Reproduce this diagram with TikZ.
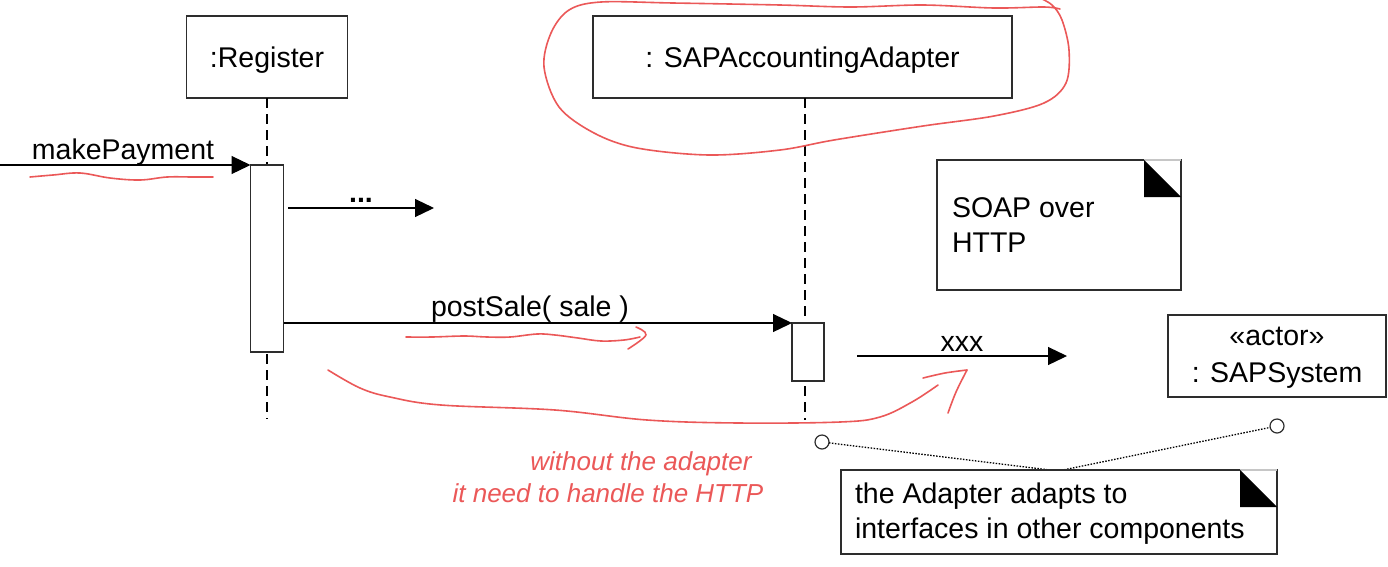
\documentclass[tikz,border=0pt]{standalone}
\usepackage{fontspec}
\setmainfont{Liberation Sans}
\usetikzlibrary{arrows.meta}
\definecolor{pen}{RGB}{235,88,88}
\definecolor{edge}{RGB}{45,45,45}
\begin{document}
\begin{tikzpicture}[x=1pt,y=-1pt,
  every node/.style={inner sep=0pt, outer sep=0pt},
  lbl/.style={font=\fontsize{28.5}{34}\selectfont, anchor=base},
  objbox/.style={draw=edge, line width=1.2pt, fill=white, font=\fontsize{28.5}{34}\selectfont, text height=20pt, text depth=0pt},
  actbar/.style={draw=edge, line width=1.2pt, fill=white},
  lifeline/.style={line width=1.5pt, dash pattern=on 10pt off 6pt},
  msg/.style={line width=1.2pt, -{Triangle[length=19pt,width=18pt]}},
  notebox/.style={draw=edge, line width=1.2pt, fill=white},
  ink/.style={draw=pen, line width=1.6pt, line cap=round, line join=round},
  hand/.style={text=pen, font=\fontsize{26}{30}\selectfont\itshape, anchor=base},
  anchorline/.style={line width=1.3pt, dash pattern=on 1.5pt off 1.5pt},
  pin/.style={circle, draw=edge, line width=1.2pt, fill=white, minimum size=14pt},
]
\useasboundingbox (0,0) rectangle (1388,566);
\fill[white] (0,0) rectangle (1388,566);

% object boxes
\node[objbox, minimum width=161pt, minimum height=82pt] (reg) at (267,57) {:Register};
\node[objbox, minimum width=419pt, minimum height=82pt] (ada) at (802.5,57) {: SAPAccountingAdapter};
\node[objbox, minimum width=218pt, minimum height=82pt] (act) at (1277,356) {};
\node[lbl] (actst) at (1277,345) {«actor»};
\node[lbl] (actnm) at (1277,382) {: SAPSystem};

% lifelines
\coordinate (regend) at (267,419);
\draw[lifeline] (reg.south) -- (regend);
\coordinate (adaend) at (805,420);
\draw[lifeline] (ada.south -| adaend) -- (adaend);

% activation bars
\node[actbar, minimum width=33pt, minimum height=187pt] (regact) at (267,258.5) {};
\node[actbar, minimum width=32pt, minimum height=58pt] (adact) at (808,352) {};

% messages
\coordinate (mpsrc) at (0,165);
\draw[msg] (mpsrc) -- (regact.north west);
\node[lbl] (mplbl) at (123,159) {makePayment};

\coordinate (dotsrc) at (288,208);
\coordinate (dotdst) at (434,208);
\draw[msg] (dotsrc) -- (dotdst);
\node[lbl, font=\fontsize{28.5}{34}\selectfont\bfseries] (dotlbl) at (361,202) {...};

\draw[msg] (regact.east |- adact.north) -- (adact.north west);
\node[lbl] (pslbl) at (530,316) {postSale( sale )};

\coordinate (xsrc) at (857,356);
\coordinate (xdst) at (1067,356);
\draw[msg] (xsrc) -- (xdst);
\node[lbl] (xlbl) at (962,351) {xxx};

% note: SOAP over HTTP
\node[notebox, minimum width=244pt, minimum height=130pt] (soap) at (1059,225) {};
\draw[gray!45, line width=1.2pt] ([xshift=-37pt]soap.north east) -- (soap.north east);
\fill ([xshift=-37pt]soap.north east) -- ++(0,37) -- ++(37,0) -- cycle;
\node[lbl, anchor=base west] (soapt1) at (952,217) {SOAP over};
\node[lbl, anchor=base west] (soapt2) at (952,252) {HTTP};

% note: adapter
\coordinate (nanch) at (1058,471);
\node[pin] (c1) at (822,442) {};
\node[pin] (c2) at (1277,426) {};
\draw[anchorline] (c1) -- (nanch) -- (c2);
\node[notebox, minimum width=436pt, minimum height=84pt] (anote) at (1059,512) {};
\draw[gray!45, line width=1.2pt] ([xshift=-37pt]anote.north east) -- (anote.north east);
\fill ([xshift=-37pt]anote.north east) -- ++(0,37) -- ++(37,0) -- cycle;
\node[lbl, anchor=base west] (ant1) at (855,503) {the Adapter adapts to};
\node[lbl, anchor=base west] (ant2) at (855,538) {interfaces in other components};

% red handwritten annotations
\draw[ink] plot[smooth, tension=0.6] coordinates {(30,177) (53,175) (80,173) (110,178) (140,180) (167,177) (193,177) (213,177)};
\draw[ink] plot[smooth, tension=0.6] coordinates {(406,337) (432,337) (464,336) (487,337) (510,337) (537,334) (555,335) (578,338) (601,341) (624,340) (640,337)};
\draw[ink] plot[smooth, tension=0.6] coordinates {(636,327) (646,335) (628,349)};
\draw[ink] plot[smooth, tension=0.6] coordinates {(328,370) (360,388) (390,397) (441,405) (555,410) (647,420) (739,423) (840,422) (880,417) (912,402) (938,385)};
\draw[ink] plot[smooth, tension=0.6] coordinates {(923,378) (945,373) (967,370)};
\draw[ink] plot[smooth, tension=0.6] coordinates {(967,370) (956,392) (948,413)};
\draw[ink] plot[smooth, tension=0.55] coordinates {(1038,-3) (1052,5) (1062,20) (1069,50) (1066,83) (1044,103) (994,116) (923,126) (834,140) (780,150) (709,155) (637,148) (594,133) (559,107) (544,67) (551,33) (569,10) (601,2) (673,3) (780,5) (851,7) (923,5) (994,8) (1044,7) (1060,9)};
\node[hand] (h1) at (641,470) {without the adapter};
\node[hand] (h2) at (608,502) {it need to handle the HTTP};
\end{tikzpicture}
\end{document}
